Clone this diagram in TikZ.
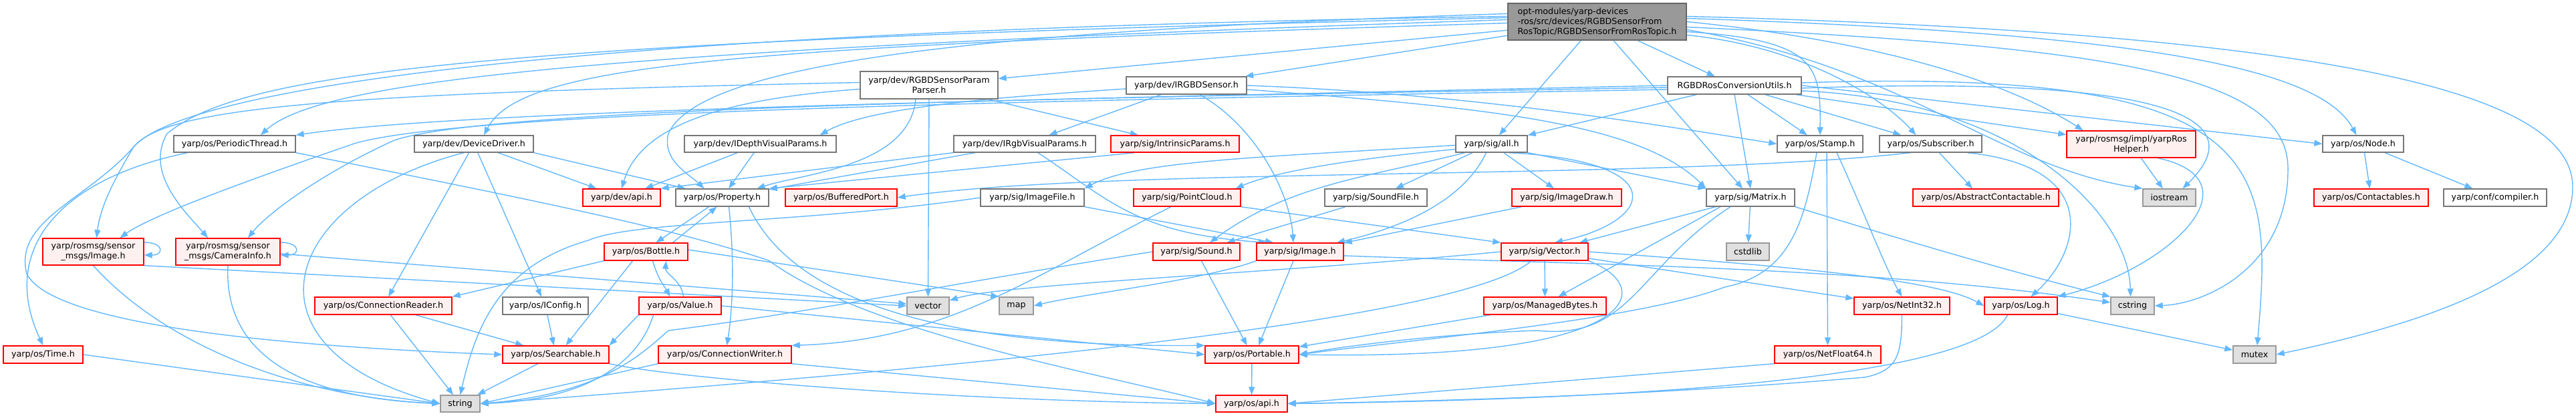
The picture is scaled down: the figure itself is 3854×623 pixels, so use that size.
\documentclass[tikz,border=0pt]{standalone}
\usepackage{fontspec}
\setmainfont{DejaVu Sans}
\usetikzlibrary{arrows.meta}
\pgfdeclarelayer{back}
\pgfdeclarelayer{bg}
\pgfsetlayers{back,bg,main}
\definecolor{edgeblue}{HTML}{63B8FF}
\definecolor{redline}{HTML}{FF0000}
\definecolor{redfill}{HTML}{FFF0F0}
\definecolor{greyline}{HTML}{777777}
\definecolor{sysline}{HTML}{999999}
\definecolor{sysfill}{HTML}{E0E0E0}
\definecolor{mainfill}{HTML}{999999}
\definecolor{mainline}{HTML}{666666}
\begin{document}
\begin{tikzpicture}[x=1pt,y=-1pt,
  font=\fontsize{12.7}{15}\selectfont,
  nbox/.style={draw=greyline, fill=white, line width=1.4pt, inner sep=0pt, align=center, text=black},
  rbox/.style={nbox, draw=redline, fill=redfill},
  sbox/.style={nbox, draw=sysline, fill=sysfill},
  sz/.style 2 args={minimum width=#1pt, minimum height=#2pt},
  edge/.style={draw=edgeblue, line width=1.4pt, -{Triangle[length=12pt,width=9pt]}}]
\useasboundingbox (0,0) rectangle (3854,623);
\begin{pgfonlayer}{back}
\fill[white] (0,0) rectangle (3854,623);
\end{pgfonlayer}

% ---------- nodes ----------
\node[nbox,sz={267}{55},fill=mainfill,draw=mainline,align=left] (main) at (2389.5,32.5) {opt-modules/yarp-devices\\-ros/src/devices/RGBDSensorFrom\\RosTopic/RGBDSensorFromRosTopic.h};
\node[nbox,sz={200}{26}] (conv) at (2595,128) {RGBDRosConversionUtils.h};
\node[nbox,sz={206}{41}] (parser) at (1390,127.5) {yarp/dev/RGBDSensorParam\\Parser.h};
\node[nbox,sz={180}{26}] (irgbd) at (1775,128) {yarp/dev/IRGBDSensor.h};
\node[nbox,sz={182}{25}] (pthread) at (351,215.5) {yarp/os/PeriodicThread.h};
\node[nbox,sz={178}{25}] (ddriver) at (709,215.5) {yarp/dev/DeviceDriver.h};
\node[nbox,sz={227}{25}] (idepth) at (1137.5,215.5) {yarp/dev/IDepthVisualParams.h};
\node[nbox,sz={212}{25}] (irgbvp) at (1533,215.5) {yarp/dev/IRgbVisualParams.h};
\node[rbox,sz={192}{25}] (intr) at (1758,215.5) {yarp/sig/IntrinsicParams.h};
\node[nbox,sz={107}{25}] (sigall) at (2231.5,215.5) {yarp/sig/all.h};
\node[nbox,sz={128}{25}] (stamp) at (2723,215.5) {yarp/os/Stamp.h};
\node[nbox,sz={153}{25}] (subs) at (2888.5,215.5) {yarp/os/Subscriber.h};
\node[rbox,sz={193}{40}] (roshelper) at (3188.5,216) {yarp/rosmsg/impl/yarpRos\\Helper.h};
\node[nbox,sz={121}{25}] (osnode) at (3535.5,215.5) {yarp/os/Node.h};
\node[rbox,sz={116}{26}] (devapi) at (930,296) {yarp/dev/api.h};
\node[nbox,sz={139}{26}] (prop) at (1080.5,296) {yarp/os/Property.h};
\node[rbox,sz={167}{26}] (bport) at (1258.5,296) {yarp/os/BufferedPort.h};
\node[nbox,sz={155}{26}] (imgfile) at (1544.5,296) {yarp/sig/ImageFile.h};
\node[rbox,sz={160}{26}] (pcloud) at (1776,296) {yarp/sig/PointCloud.h};
\node[nbox,sz={153}{26}] (sndfile) at (2058.5,296) {yarp/sig/SoundFile.h};
\node[rbox,sz={164}{26}] (imgdraw) at (2344,296) {yarp/sig/ImageDraw.h};
\node[nbox,sz={132}{26}] (matrix) at (2619,296) {yarp/sig/Matrix.h};
\node[rbox,sz={218}{26}] (abscont) at (2971,296) {yarp/os/AbstractContactable.h};
\node[sbox,sz={79}{26}] (iostream) at (3245.5,296) {iostream};
\node[rbox,sz={171}{26}] (contact) at (3547.5,296) {yarp/os/Contactables.h};
\node[nbox,sz={154}{26}] (compiler) at (3733,296) {yarp/conf/compiler.h};
\node[rbox,sz={151}{40}] (rimg) at (139.5,377) {yarp/rosmsg/sensor\\\_msgs/Image.h};
\node[rbox,sz={156}{40}] (rcam) at (341,377) {yarp/rosmsg/sensor\\\_msgs/CameraInfo.h};
\node[rbox,sz={125}{26}] (bottle) at (966.5,377) {yarp/os/Bottle.h};
\node[rbox,sz={130}{26}] (sound) at (1790,377) {yarp/sig/Sound.h};
\node[rbox,sz={130}{26}] (sigimg) at (1945,377) {yarp/sig/Image.h};
\node[rbox,sz={130}{26}] (vec) at (2311,377) {yarp/sig/Vector.h};
\node[sbox,sz={64}{26}] (cstdlib) at (2615,377) {cstdlib};
\node[rbox,sz={205}{26}] (creader) at (573.5,458) {yarp/os/ConnectionReader.h};
\node[nbox,sz={128}{26}] (iconfig) at (816,458) {yarp/os/IConfig.h};
\node[rbox,sz={123}{26}] (value) at (1017.5,458) {yarp/os/Value.h};
\node[sbox,sz={63}{26}] (stdvector) at (1388.5,458) {vector};
\node[sbox,sz={51}{26}] (stdmap) at (1520.5,458) {map};
\node[rbox,sz={183}{26}] (mbytes) at (2311.5,458) {yarp/os/ManagedBytes.h};
\node[rbox,sz={143}{26}] (netint) at (2845.5,458) {yarp/os/NetInt32.h};
\node[rbox,sz={109}{26}] (oslog) at (3023.5,458) {yarp/os/Log.h};
\node[sbox,sz={65}{26}] (cstring) at (3190.5,458) {cstring};
\node[rbox,sz={119}{26}] (ostime) at (64.5,531) {yarp/os/Time.h};
\node[rbox,sz={159}{26}] (search) at (831.5,531) {yarp/os/Searchable.h};
\node[rbox,sz={199}{26}] (cwriter) at (1084.5,531) {yarp/os/ConnectionWriter.h};
\node[rbox,sz={140}{26}] (portable) at (1873,531) {yarp/os/Portable.h};
\node[rbox,sz={159}{26}] (netfloat) at (2734.5,531) {yarp/os/NetFloat64.h};
\node[sbox,sz={64}{26}] (mutex) at (3373,531) {mutex};
\node[sbox,sz={59}{25}] (stdstring) at (688.5,604.5) {string};
\node[rbox,sz={107}{25}] (osapi) at (1872.5,604.5) {yarp/os/api.h};

% ---------- edges ----------
\begin{pgfonlayer}{bg}
% main
\draw[edge] (main) -- (conv);
\draw[edge] (main) -- (parser);
\draw[edge] (main) -- (irgbd);
\draw[edge] (main) -- (sigall);
\draw[edge] (main) -- (matrix);
\draw[edge] ([yshift=3pt]main.west) .. controls (900,75) and (480,120) .. ([xshift=39pt]pthread.north);
\draw[edge] ([yshift=-2pt]main.west) .. controls (1100,70) and (780,95) .. ([xshift=15pt]ddriver.north);
\draw[edge] ([yshift=8pt]main.west) .. controls (600,50) and (250,160) .. (200,220) .. controls (170,270) and (150,310) .. ([xshift=5pt]rimg.north);
\draw[edge] ([yshift=6pt]main.west) .. controls (700,62) and (360,110) .. (250,200) .. controls (215,260) and (280,320) .. ([xshift=-30pt]rcam.north);
\draw[edge] ([yshift=12pt]main.west) .. controls (1500,45) and (1050,90) .. (1000,200) .. controls (990,240) and (1030,260) .. ([xshift=-27pt]prop.north);
\draw[edge] ([yshift=-15pt]main.east) .. controls (2720,60) and (2724,100) .. (stamp.north);
\draw[edge] ([yshift=-20pt]main.east) .. controls (2700,70) and (2820,150) .. ([xshift=-22pt]subs.north);
\draw[edge] (main.east) .. controls (2800,60) and (3000,120) .. ([xshift=-72pt]roshelper.north);
\draw[edge] ([yshift=5pt]main.east) .. controls (3200,50) and (3470,100) .. ([xshift=-10pt]osnode.north);
\draw[edge] ([yshift=8pt]main.east) .. controls (3500,50) and (3849,140) .. (3849,280) .. controls (3849,420) and (3600,490) .. (mutex.east);
\draw[edge] ([yshift=-8pt]main.east) .. controls (3150,70) and (3420,110) .. (3423,250) .. controls (3425,400) and (3300,455) .. (cstring.east);
\draw[edge] ([yshift=-12pt]main.east) .. controls (2850,100) and (2990,250) .. (iostream.north west);
% conv
\draw[edge] (conv) -- (sigall);
\draw[edge] (conv.south) -- (matrix.north);
\draw[edge] (conv) -- (stamp);
\draw[edge] (conv) -- (subs);
\draw[edge] (conv) -- (roshelper);
\draw[edge] (conv.east) -- (osnode.west);
\draw[edge] ([yshift=-4pt]conv.east) .. controls (3330,110) and (3350,200) .. ([xshift=20pt]iostream.north);
\draw[edge] ([yshift=-8pt]conv.east) .. controls (3020,150) and (3185,320) .. ([xshift=-3pt]cstring.north);
\draw[edge] ([yshift=4pt]conv.east) .. controls (3400,100) and (3400,250) .. ([xshift=4pt]mutex.north);
\draw[edge] ([yshift=-6pt]conv.west) .. controls (1600,150) and (700,165) .. (530,215) .. controls (400,260) and (230,320) .. ([xshift=40pt]rimg.north);
\draw[edge] ([yshift=-3pt]conv.west) .. controls (1600,147) and (740,160) .. (590,210) .. controls (480,260) and (400,320) .. ([xshift=30pt]rcam.north);
\draw[edge] (conv.west) .. controls (1500,150) and (700,165) .. (pthread.north east);
% parser
\draw[edge] (parser.south) -- (stdvector.north);
\draw[edge] (parser) -- (intr);
\draw[edge] ([yshift=-6pt]parser.west) .. controls (1050,150) and (955,200) .. (devapi.north);
\draw[edge] ([xshift=-20pt]parser.south) .. controls (1360,250) and (1200,260) .. ([xshift=52pt]prop.north);
\draw[edge] ([yshift=4pt]parser.west) .. controls (500,140) and (250,160) .. (200,220) .. controls (130,300) and (20,330) .. (40,410) .. controls (80,490) and (450,520) .. (search.west);
% irgbd
\draw[edge] ([yshift=-5pt]irgbd.west) .. controls (1500,145) and (1300,160) .. ([xshift=-25pt]idepth.north east);
\draw[edge] (irgbd) -- (irgbvp);
\draw[edge] ([xshift=20pt]irgbd.south) .. controls (1880,190) and (1930,290) .. ([xshift=-10pt]sigimg.north);
\draw[edge] (irgbd.east) .. controls (2200,140) and (2500,190) .. (stamp.west);
\draw[edge] ([yshift=-6pt]irgbd.east) .. controls (2200,160) and (2450,180) .. (matrix.north west);
% pthread
\draw[edge] ([xshift=-70pt]pthread.south) .. controls (80,270) and (0,380) .. (ostime.north);
\draw[edge] (pthread.south east) .. controls (800,300) and (1000,340) .. (1150,390) .. controls (1300,500) and (1650,560) .. (osapi.west);
% ddriver
\draw[edge] (ddriver) -- (creader);
\draw[edge] (ddriver) -- (iconfig);
\draw[edge] (ddriver) -- (devapi);
\draw[edge] (ddriver.south east) -- ([xshift=-55pt]prop.north);
\draw[edge] ([xshift=-15pt]ddriver.south) .. controls (420,300) and (350,520) .. (stdstring.west);
% idepth, irgbvp, intr
\draw[edge] (idepth) -- (devapi);
\draw[edge] (idepth) -- (prop);
\draw[edge] (irgbvp) -- (prop);
\draw[edge] (irgbvp.south west) -- (devapi.north east);
\draw[edge] ([xshift=20pt]irgbvp.south) .. controls (1660,300) and (1700,350) .. ([xshift=-50pt]sigimg.north);
\draw[edge] ([xshift=-60pt]intr.south) -- (prop.north east);
% sigall
\draw[edge] ([yshift=-2pt]sigall.west) .. controls (1900,235) and (1700,240) .. (imgfile.north east);
\draw[edge] ([yshift=-8pt]sigall.west) .. controls (2000,240) and (1900,260) .. ([xshift=-8pt]pcloud.north east);
\draw[edge] (sigall) -- (sndfile);
\draw[edge] ([xshift=-8pt]sigall.south) .. controls (2190,300) and (2100,340) .. ([xshift=55pt]sigimg.north);
\draw[edge] (sigall) -- (imgdraw);
\draw[edge] (sigall.south east) -- (matrix.north west);
\draw[edge] ([xshift=25pt]sigall.south) .. controls (2500,240) and (2480,330) .. ([xshift=15pt]vec.north);
\draw[edge] ([xshift=-40pt]sigall.south) .. controls (2050,265) and (1930,275) .. ([xshift=20pt]sound.north);
% sig leaves
\draw[edge] (sndfile) -- (sound);
\draw[edge] (imgdraw) -- (sigimg);
\draw[edge] (imgfile.south east) -- ([xshift=-40pt]sigimg.north);
\draw[edge] (imgfile.west) .. controls (1200,335) and (950,330) .. (880,360) .. controls (740,400) and (710,500) .. (stdstring.north);
\draw[edge] (pcloud.south east) -- (vec.north west);
\draw[edge] ([xshift=-24pt]pcloud.south) .. controls (1550,410) and (1420,510) .. (cwriter.north east);
\draw[edge] (sound.west) .. controls (1450,420) and (1200,470) .. (1000,495) .. controls (960,530) and (900,590) .. (stdstring.east);
\draw[edge] (sound) -- (portable);
\draw[edge] ([xshift=-10pt]sigimg.south) -- ([xshift=10pt]portable.north);
\draw[edge] (sigimg.south west) .. controls (1800,420) and (1620,440) .. (stdmap.east);
\draw[edge] ([yshift=-6pt]sigimg.east) .. controls (2400,397) and (2800,400) .. ([yshift=5pt]cstring.west);
% vector
\draw[edge] (vec) -- (mbytes);
\draw[edge] (vec.west) .. controls (1900,410) and (1500,425) .. ([yshift=8pt]stdvector.east);
\draw[edge] ([xshift=-20pt]vec.south) .. controls (2200,470) and (1600,540) .. (stdstring.east);
\draw[edge] (vec.south east) .. controls (2480,430) and (2460,540) .. (portable.east);
\draw[edge] (vec) -- (netint);
\draw[edge] (vec.east) .. controls (2700,400) and (2900,420) .. (oslog.west);
% matrix
\draw[edge] (matrix) -- (cstdlib);
\draw[edge] (matrix) -- (vec);
\draw[edge] ([xshift=-30pt]matrix.south) .. controls (2450,400) and (2440,510) .. (2300,495) .. controls (2150,500) and (2000,520) .. (portable.east);
\draw[edge] ([xshift=-45pt]matrix.south) -- ([xshift=20pt]mbytes.north);
\draw[edge] (matrix.south east) .. controls (2850,360) and (3000,405) .. (cstring.north west);
% stamp
\draw[edge] ([xshift=-5pt]stamp.south) .. controls (2700,330) and (2680,410) .. (2580,430) .. controls (2450,480) and (2100,510) .. (portable.east);
\draw[edge] ([xshift=10pt]stamp.south) -- (netfloat.north);
\draw[edge] ([xshift=25pt]stamp.south) .. controls (2790,320) and (2820,400) .. (netint.north);
% subscriber
\draw[edge] ([xshift=13pt]subs.south) -- ([xshift=-20pt]abscont.north);
\draw[edge] ([xshift=-30pt]subs.south) .. controls (2500,270) and (1650,250) .. (bport.east);
\draw[edge] ([xshift=55pt]subs.south) .. controls (3150,250) and (3110,380) .. ([xshift=15pt]oslog.north);
% ros helper, node
\draw[edge] (roshelper) -- (iostream);
\draw[edge] ([xshift=40pt]roshelper.south) .. controls (3380,270) and (3250,400) .. (oslog.north east);
\draw[edge] (osnode) -- (contact);
\draw[edge] (osnode) -- (compiler);
% log, net
\draw[edge] (oslog) -- (mutex);
\draw[edge] ([xshift=-20pt]oslog.south) .. controls (2950,580) and (2300,600) .. (osapi.east);
\draw[edge] (netint.south) .. controls (2845,530) and (2840,555) .. (2790,565) .. controls (2500,590) and (2200,600) .. (osapi.east);
\draw[edge] (netfloat.south west) -- (osapi.east);
\draw[edge] (mbytes) -- (portable);
\draw[edge] (portable) -- (osapi);
% connection / searchable
\draw[edge] (cwriter.south east) -- (osapi.west);
\draw[edge] (cwriter.south west) -- (stdstring.east);
\draw[edge] (search) -- (stdstring);
\draw[edge] (search.south east) .. controls (1000,565) and (1400,600) .. (osapi.west);
\draw[edge] (creader) -- (stdstring);
\draw[edge] (creader) -- (search);
\draw[edge] (iconfig) -- (search);
% value, bottle, property
\draw[edge] (value.south west) -- (search.north east);
\draw[edge] (value.east) -- (portable.west);
\draw[edge] ([xshift=-40pt]value.south) .. controls (950,560) and (850,600) .. (stdstring.east);
\draw[edge] ([xshift=10pt]bottle.south) .. controls (985,420) and (995,430) .. ([xshift=-15pt]value.north);
\draw[edge] ([xshift=5pt]value.north) .. controls (1020,420) and (995,410) .. ([xshift=30pt]bottle.south);
\draw[edge] ([xshift=-20pt]prop.south) -- ([xshift=15pt]bottle.north);
\draw[edge] ([xshift=40pt]bottle.north) -- ([xshift=-8pt]prop.south);
\draw[edge] ([xshift=-20pt]bottle.south) -- ([xshift=15pt]search.north);
\draw[edge] (bottle.south west) -- (creader.north east);
\draw[edge] ([yshift=3pt]bottle.east) -- (stdmap.north west);
\draw[edge] ([xshift=10pt]prop.south) .. controls (1100,400) and (1095,470) .. ([xshift=3pt]cwriter.north);
\draw[edge] ([xshift=40pt]prop.south) .. controls (1200,480) and (1500,520) .. (portable.north west);
% time, rosmsg
\draw[edge] (ostime.east) -- (stdstring.west);
\draw[edge] (rimg.south) .. controls (250,520) and (450,595) .. (stdstring.west);
\draw[edge] (rcam.south) .. controls (335,520) and (430,595) .. (stdstring.west);
\draw[edge] (rimg.south east) -- (stdvector.west);
\draw[edge] ([yshift=-3pt]rcam.east) -- ([yshift=3pt]stdvector.west);
\draw[edge] ([yshift=14pt]rimg.east) .. controls +(30,0) and +(30,0) .. ([yshift=-5pt]rimg.east);
\draw[edge] ([yshift=14pt]rcam.east) .. controls +(30,0) and +(30,0) .. ([yshift=-5pt]rcam.east);
\end{pgfonlayer}
\end{tikzpicture}
\end{document}
